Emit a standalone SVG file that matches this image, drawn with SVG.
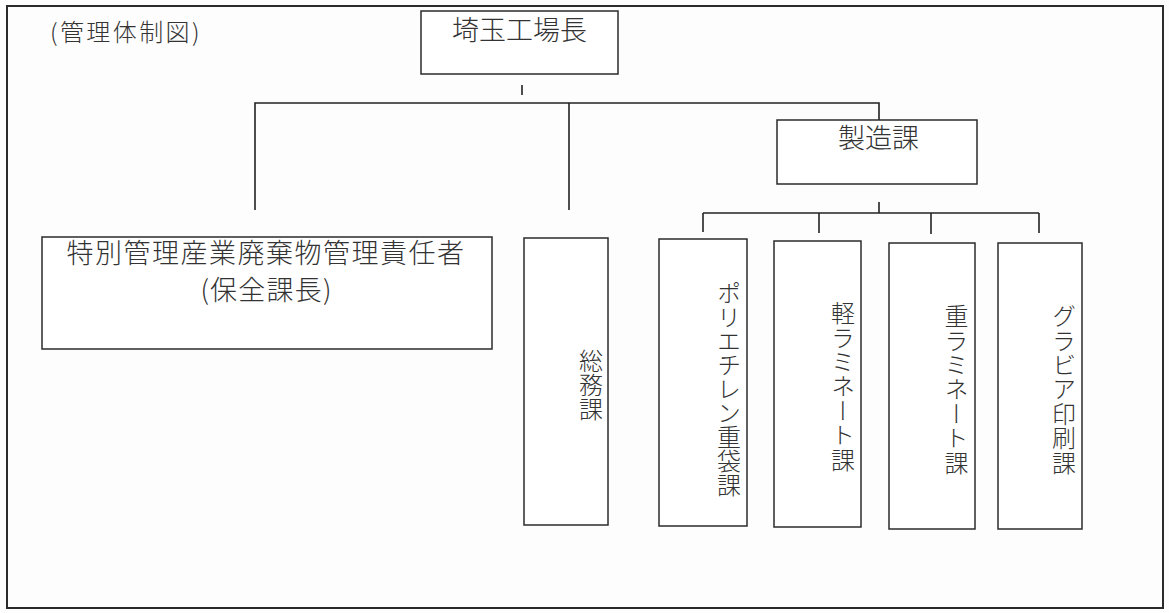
<svg xmlns="http://www.w3.org/2000/svg" width="1169" height="613" viewBox="0 0 1169 613">
  <style>
    .box { fill: #ffffff; stroke: #2b2b2b; stroke-width: 1.5; }
    .frame { fill: none; stroke: #2b2b2b; stroke-width: 2; }
    .conn { fill: none; stroke: #222222; stroke-width: 1.6; }
    .t { font-family: "Noto Sans CJK JP", "Noto Sans CJK SC", sans-serif; font-weight: 300; fill: #333333; }
    .h27 { font-size: 27px; text-anchor: middle; }
    .v24 { font-size: 24px; writing-mode: vertical-rl; }
  </style>
  <rect x="0" y="0" width="1169" height="613" fill="#fdfdfd"/>
  <rect class="frame" x="7" y="6" width="1156" height="602"/>
  <text class="t" x="50" y="41" font-size="24" letter-spacing="2.4">(管理体制図)</text>

  <g id="connectors">
    <line class="conn" x1="522" y1="85" x2="522" y2="95"/>
    <polyline class="conn" points="255,210 255,103 879,103 879,120"/>
    <line class="conn" x1="569" y1="103" x2="569" y2="210"/>
    <line class="conn" x1="879" y1="202" x2="879" y2="213"/>
    <line class="conn" x1="703" y1="213" x2="1039" y2="213"/>
    <line class="conn" x1="703" y1="213" x2="703" y2="232"/>
    <line class="conn" x1="819" y1="213" x2="819" y2="233"/>
    <line class="conn" x1="931" y1="213" x2="931" y2="234"/>
    <line class="conn" x1="1039" y1="213" x2="1039" y2="233"/>
  </g>

  <g id="node-plant-manager">
    <rect class="box" x="421" y="11" width="197" height="63"/>
    <text class="t h27" x="519.5" y="40">埼玉工場長</text>
  </g>
  <g id="node-manufacturing">
    <rect class="box" x="777" y="120" width="200" height="64"/>
    <text class="t h27" x="878.5" y="148">製造課</text>
  </g>
  <g id="node-waste-manager">
    <rect class="box" x="42" y="237" width="450" height="112"/>
    <text class="t h27" x="266" y="262.5" font-size="26" letter-spacing="1.5">特別管理産業廃棄物管理責任者</text>
    <text class="t h27" x="266.5" y="299.5" font-size="25" letter-spacing="1.2">(保全課長)</text>
  </g>
  <g id="node-general-affairs">
    <rect class="box" x="524" y="238" width="84" height="287"/>
    <text class="t v24" x="591" y="349">総務課</text>
  </g>
  <g id="node-polyethylene">
    <rect class="box" x="659" y="239" width="88" height="287"/>
    <text class="t v24" x="729" y="281" font-size="23.5">ポリエチレン重袋課</text>
  </g>
  <g id="node-light-laminate">
    <rect class="box" x="774" y="241" width="87" height="286"/>
    <text class="t v24" x="843" y="301" letter-spacing="0.4">軽ラミネート課</text>
  </g>
  <g id="node-heavy-laminate">
    <rect class="box" x="889" y="243" width="86" height="286"/>
    <text class="t v24" x="956.5" y="304" letter-spacing="0.4">重ラミネート課</text>
  </g>
  <g id="node-gravure">
    <rect class="box" x="998" y="243" width="84" height="286"/>
    <text class="t v24" x="1064" y="304" letter-spacing="0.4">グラビア印刷課</text>
  </g>
</svg>
